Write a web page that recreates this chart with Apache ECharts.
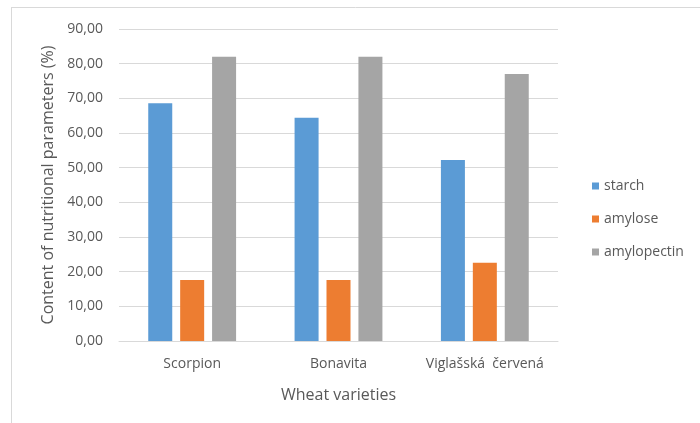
<!DOCTYPE html>
<html>
<head>
<meta charset="utf-8">
<script src="https://cdn.jsdelivr.net/npm/echarts@6/dist/echarts.min.js"></script>
<style>html,body{margin:0;padding:0;background:#fff}#c{width:700px;height:423px}</style>
</head>
<body>
<div id="c"></div>
<script>
var categories = ['Scorpion', 'Bonavita', 'Viglašská  červená'];
var starch = [68.6, 64.4, 52.2];
var amylose = [17.6, 17.6, 22.6];
var amylopectin = [82.0, 82.0, 77.0];
var seriesNames = ['starch', 'amylose', 'amylopectin'];
var yAxisMin = 0, yAxisMax = 90, yAxisStep = 10;

var chart = echarts.init(document.getElementById('c'), null, {renderer: 'canvas'});
var font = 'Open Sans';
var txt = '#595959';
function bar(name, data, color) {
  return {name: name, type: 'bar', data: data, barWidth: 24, barGap: '33%',
    itemStyle: {color: color}};
}
chart.setOption({
  animation: false,
  textStyle: {fontFamily: font},
  graphic: [
    {type: 'line', shape: {x1: 11, y1: 7.5, x2: 700, y2: 7.5}, style: {stroke: '#d9d9d9', lineWidth: 1}},
    {type: 'line', shape: {x1: 11.5, y1: 7, x2: 11.5, y2: 423}, style: {stroke: '#d9d9d9', lineWidth: 1}}
  ],
  grid: {left: 119, right: 142, top: 29, bottom: 82},
  legend: {
    orient: 'vertical', left: 587, top: 174, itemWidth: 7, itemHeight: 7, itemGap: 19,
    icon: 'rect', textStyle: {color: txt, fontSize: 14, fontFamily: font},
    data: seriesNames
  },
  xAxis: {
    type: 'category', data: categories,
    name: 'Wheat varieties', nameLocation: 'middle', nameGap: 46,
    nameTextStyle: {color: txt, fontSize: 16, fontFamily: font},
    axisLine: {lineStyle: {color: '#d9d9d9'}},
    axisTick: {show: false},
    axisLabel: {color: txt, fontSize: 14, margin: 16, interval: 0, fontFamily: font}
  },
  yAxis: {
    type: 'value', min: yAxisMin, max: yAxisMax, interval: yAxisStep,
    name: 'Content of nutritional parameters (%)', nameLocation: 'middle', nameGap: 63,
    nameTextStyle: {color: txt, fontSize: 16, fontFamily: font},
    axisLine: {show: false}, axisTick: {show: false},
    splitLine: {lineStyle: {color: '#d9d9d9'}},
    axisLabel: {color: txt, fontSize: 14, margin: 16, fontFamily: font,
      formatter: function (v) { return v.toFixed(2).replace('.', ','); }}
  },
  series: [
    bar(seriesNames[0], starch, '#5b9bd5'),
    bar(seriesNames[1], amylose, '#ed7d31'),
    bar(seriesNames[2], amylopectin, '#a5a5a5')
  ]
});
</script>
</body>
</html>
